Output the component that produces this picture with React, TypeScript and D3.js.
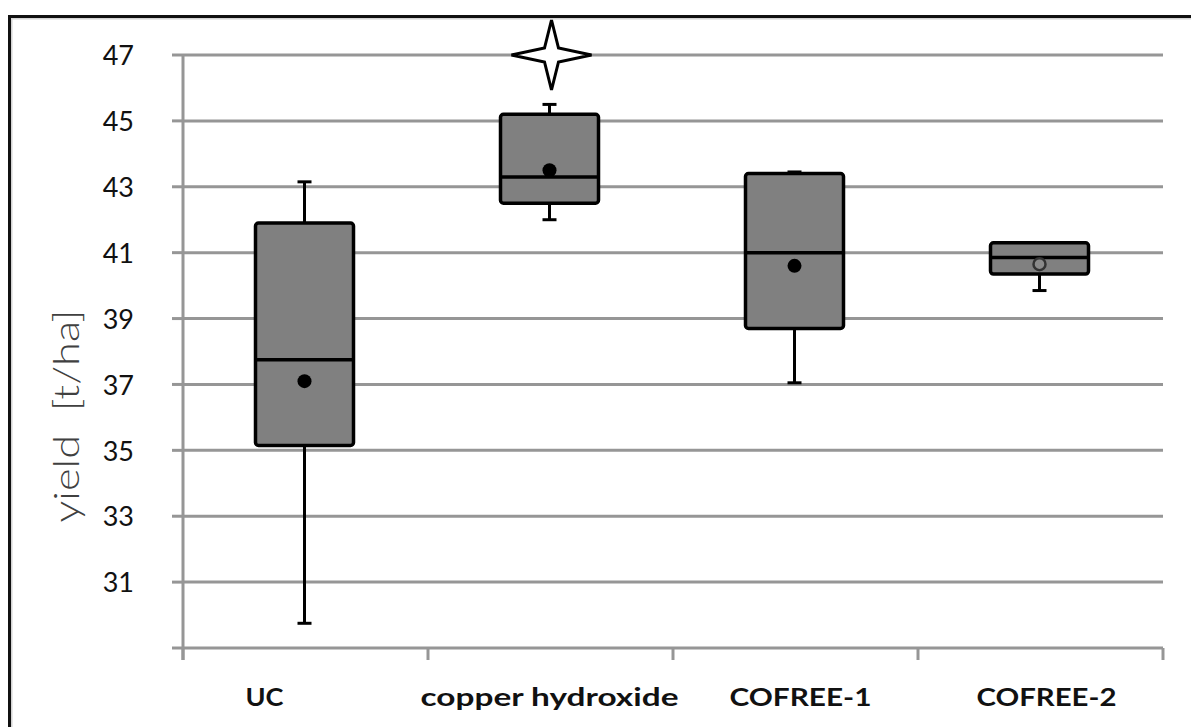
import React from "react";
import * as d3 from "d3";

const categories = ["UC", "copper hydroxide", "COFREE-1", "COFREE-2"];
const whiskerLow = [29.75, 42.0, 37.05, 39.85];
const q1 = [35.15, 42.5, 38.7, 40.35];
const median = [37.75, 43.3, 41.0, 40.85];
const q3 = [41.9, 45.2, 43.4, 41.3];
const whiskerHigh = [43.15, 45.5, 43.45, 41.3];
const means = [37.1, 43.5, 40.6, 40.65];
const meanFilled = [true, true, true, false];
const outliers: { cat: string; value: number }[] = [{ cat: "copper hydroxide", value: 47 }];
const yTicks = [29, 31, 33, 35, 37, 39, 41, 43, 45, 47];
const yTickLabels = ["", "31", "33", "35", "37", "39", "41", "43", "45", "47"];
const yTitle = "yield  [t/ha]";

const W = 1191;
const H = 727;

// label rendering tweaks (styling, not data)
const labelDx = [-41, -1, 5, 6];
const labelLen = [38, 258, 142, 140];

export default function App() {
  const y = d3.scaleLinear().domain([29, 47]).range([648, 55]);
  const x = d3.scaleBand().domain(categories).range([183, 1163]).padding(0);
  const bw = x.bandwidth();
  const boxW = bw * 0.4;
  const capW = 14;
  const x0 = 183;
  const x1 = 1163;
  const starPath = (cx: number, cy: number) => {
    const rx = 40, ry = 35, ix = 7, iy = 7;
    return `M${cx},${cy - ry} L${cx + ix},${cy - iy} L${cx + rx},${cy} L${cx + ix},${cy + iy} L${cx},${cy + ry} L${cx - ix},${cy + iy} L${cx - rx},${cy} L${cx - ix},${cy - iy} Z`;
  };
  return (
    <svg width={W} height={H} style={{ position: "absolute", left: 0, top: 0, background: "#fff" }}>
      {/* frame */}
      <rect x={11.5} y={18.5} width={W + 20} height={H + 20} fill="none" stroke="#d4d4d4" strokeWidth={2} />
      <rect x={9.5} y={16.5} width={W + 20} height={H + 20} fill="none" stroke="#111" strokeWidth={3} />
      {/* gridlines */}
      {yTicks.map((t) => (
        <line key={"g" + t} x1={x0} x2={x1} y1={y(t)} y2={y(t)} stroke="#969696" strokeWidth={3} />
      ))}
      {/* y ticks */}
      {yTicks.map((t) => (
        <line key={"t" + t} x1={172} x2={x0} y1={y(t)} y2={y(t)} stroke="#969696" strokeWidth={3} />
      ))}
      <line x1={x0} x2={x0} y1={y(47)} y2={660} stroke="#969696" strokeWidth={3} />
      {/* x ticks */}
      {[...categories.map((c) => x(c)!), x1].map((bx, i) => (
        <line key={"xt" + i} x1={bx} x2={bx} y1={y(29)} y2={660} stroke="#969696" strokeWidth={3} />
      ))}
      {/* y tick labels */}
      {yTicks.map((t, i) => (
        <text key={"yl" + t} x={134} y={y(t)} dy="0.38em" textAnchor="end" fontFamily="Lato" fontSize={27} fill="#111">
          {yTickLabels[i]}
        </text>
      ))}
      {/* y title */}
      <text
        transform={`translate(79,416) rotate(-90)`}
        textAnchor="middle"
        fontFamily="Lato"
        fontWeight={300}
        fontSize={36}
        fill="#404040"
        textLength={213}
        lengthAdjust="spacingAndGlyphs"
        style={{ whiteSpace: "pre" }}
      >
        {yTitle}
      </text>
      {/* x labels */}
      {categories.map((c, i) => (
        <text
          key={"xl" + c}
          x={x(c)! + bw / 2 + labelDx[i]}
          y={706}
          textAnchor="middle"
          fontFamily="Lato"
          fontWeight={700}
          fontSize={24}
          fill="#111"
          textLength={labelLen[i]}
          lengthAdjust="spacingAndGlyphs"
        >
          {c}
        </text>
      ))}
      {/* boxes */}
      {categories.map((c, i) => {
        const cx = x(c)! + bw / 2 - 1;
        return (
          <g key={"b" + c}>
            <line x1={cx} x2={cx} y1={y(whiskerHigh[i])} y2={y(q3[i])} stroke="#000" strokeWidth={3} />
            <line x1={cx} x2={cx} y1={y(q1[i])} y2={y(whiskerLow[i])} stroke="#000" strokeWidth={3} />
            <line x1={cx - capW / 2} x2={cx + capW / 2} y1={y(whiskerHigh[i])} y2={y(whiskerHigh[i])} stroke="#000" strokeWidth={3} />
            <line x1={cx - capW / 2} x2={cx + capW / 2} y1={y(whiskerLow[i])} y2={y(whiskerLow[i])} stroke="#000" strokeWidth={3} />
            <rect
              x={cx - boxW / 2}
              y={y(q3[i])}
              width={boxW}
              height={y(q1[i]) - y(q3[i])}
              rx={3}
              fill="#808080"
              stroke="#000"
              strokeWidth={3.5}
            />
            <line x1={cx - boxW / 2} x2={cx + boxW / 2} y1={y(median[i])} y2={y(median[i])} stroke="#000" strokeWidth={3.5} />
            {meanFilled[i] ? (
              <circle cx={cx} cy={y(means[i])} r={7} fill="#000" />
            ) : (
              <circle cx={cx} cy={y(means[i])} r={6} fill="#8a8a8a" stroke="#333" strokeWidth={2.5} />
            )}
          </g>
        );
      })}
      {/* outliers */}
      {outliers.map((o, i) => (
        <path key={"o" + i} d={starPath(x(o.cat)! + bw / 2 + 1, y(o.value))} fill="#fff" stroke="#000" strokeWidth={3} strokeLinejoin="miter" />
      ))}
    </svg>
  );
}
